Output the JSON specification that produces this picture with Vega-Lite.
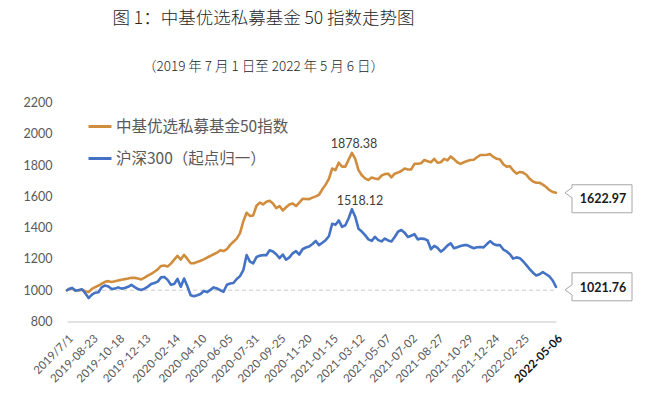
{
  "$schema": "https://vega.github.io/schema/vega-lite/v6.json",
  "width": 489,
  "height": 219,
  "autosize": {"type": "none"},
  "padding": {"left": 67, "top": 102.5, "right": 104, "bottom": 74.5},
  "background": "white",
  "title": {
    "text": "图 1：中基优选私募基金 50 指数走势图",
    "subtitle": "（2019 年 7 月 1 日至 2022 年 5 月 6 日）",
    "frame": "group",
    "anchor": "middle",
    "dx": -48,
    "font": "Noto Sans CJK SC",
    "subtitleFont": "Noto Sans CJK SC",
    "fontSize": 17.5,
    "subtitleFontSize": 13.5,
    "fontWeight": 300,
    "subtitleFontWeight": 300,
    "color": "#262626",
    "subtitleColor": "#262626",
    "offset": 23,
    "subtitlePadding": 33
  },
  "data": {"values": [
    {"date":"2019-07-01","P":1000,"H":1000},
    {"date":"2019-07-05","P":1008,"H":1008},
    {"date":"2019-07-12","P":1010,"H":1015},
    {"date":"2019-07-19","P":1000,"H":997},
    {"date":"2019-07-26","P":998,"H":1001},
    {"date":"2019-08-02","P":1003,"H":1006},
    {"date":"2019-08-09","P":994,"H":980},
    {"date":"2019-08-16","P":988,"H":950},
    {"date":"2019-08-23","P":1008,"H":972},
    {"date":"2019-08-30","P":1020,"H":984},
    {"date":"2019-09-06","P":1030,"H":987},
    {"date":"2019-09-13","P":1042,"H":1020},
    {"date":"2019-09-20","P":1054,"H":1030},
    {"date":"2019-09-27","P":1058,"H":1024},
    {"date":"2019-10-04","P":1053,"H":1008},
    {"date":"2019-10-11","P":1057,"H":1010},
    {"date":"2019-10-18","P":1062,"H":1018},
    {"date":"2019-10-25","P":1067,"H":1010},
    {"date":"2019-11-01","P":1071,"H":1014},
    {"date":"2019-11-08","P":1075,"H":1022},
    {"date":"2019-11-15","P":1080,"H":1034},
    {"date":"2019-11-22","P":1079,"H":1020},
    {"date":"2019-11-29","P":1075,"H":1007},
    {"date":"2019-12-06","P":1069,"H":1001},
    {"date":"2019-12-13","P":1080,"H":1010},
    {"date":"2019-12-20","P":1093,"H":1023},
    {"date":"2019-12-27","P":1104,"H":1040},
    {"date":"2020-01-03","P":1118,"H":1046},
    {"date":"2020-01-10","P":1133,"H":1055},
    {"date":"2020-01-17","P":1155,"H":1082},
    {"date":"2020-01-24","P":1158,"H":1085},
    {"date":"2020-01-31","P":1152,"H":1066},
    {"date":"2020-02-07","P":1170,"H":1035},
    {"date":"2020-02-14","P":1195,"H":1040},
    {"date":"2020-02-21","P":1220,"H":1072},
    {"date":"2020-02-28","P":1196,"H":1022},
    {"date":"2020-03-06","P":1226,"H":1075},
    {"date":"2020-03-13","P":1200,"H":1025},
    {"date":"2020-03-20","P":1172,"H":968},
    {"date":"2020-03-27","P":1172,"H":962},
    {"date":"2020-04-03","P":1181,"H":968},
    {"date":"2020-04-10","P":1188,"H":976},
    {"date":"2020-04-17","P":1197,"H":995},
    {"date":"2020-04-24","P":1209,"H":988},
    {"date":"2020-05-01","P":1219,"H":1002},
    {"date":"2020-05-08","P":1230,"H":1018},
    {"date":"2020-05-15","P":1240,"H":1011},
    {"date":"2020-05-22","P":1256,"H":1000},
    {"date":"2020-05-29","P":1250,"H":990},
    {"date":"2020-06-05","P":1262,"H":1035},
    {"date":"2020-06-12","P":1290,"H":1043},
    {"date":"2020-06-19","P":1310,"H":1046},
    {"date":"2020-06-26","P":1330,"H":1072},
    {"date":"2020-07-03","P":1365,"H":1090},
    {"date":"2020-07-10","P":1440,"H":1128},
    {"date":"2020-07-17","P":1495,"H":1225},
    {"date":"2020-07-24","P":1475,"H":1183},
    {"date":"2020-07-31","P":1478,"H":1172},
    {"date":"2020-08-07","P":1540,"H":1212},
    {"date":"2020-08-14","P":1560,"H":1221},
    {"date":"2020-08-21","P":1548,"H":1224},
    {"date":"2020-08-28","P":1565,"H":1224},
    {"date":"2020-09-04","P":1572,"H":1255},
    {"date":"2020-09-11","P":1555,"H":1248},
    {"date":"2020-09-18","P":1525,"H":1230},
    {"date":"2020-09-25","P":1538,"H":1205},
    {"date":"2020-10-02","P":1510,"H":1228},
    {"date":"2020-10-09","P":1530,"H":1195},
    {"date":"2020-10-16","P":1548,"H":1210},
    {"date":"2020-10-23","P":1555,"H":1236},
    {"date":"2020-10-30","P":1538,"H":1250},
    {"date":"2020-11-06","P":1560,"H":1228},
    {"date":"2020-11-13","P":1584,"H":1262},
    {"date":"2020-11-20","P":1583,"H":1273},
    {"date":"2020-11-27","P":1582,"H":1280},
    {"date":"2020-12-04","P":1592,"H":1296},
    {"date":"2020-12-11","P":1600,"H":1315},
    {"date":"2020-12-18","P":1610,"H":1288},
    {"date":"2020-12-25","P":1645,"H":1303},
    {"date":"2021-01-01","P":1675,"H":1320},
    {"date":"2021-01-08","P":1712,"H":1345},
    {"date":"2021-01-15","P":1778,"H":1425},
    {"date":"2021-01-22","P":1768,"H":1418},
    {"date":"2021-01-29","P":1815,"H":1446},
    {"date":"2021-02-05","P":1790,"H":1405},
    {"date":"2021-02-12","P":1790,"H":1415},
    {"date":"2021-02-19","P":1835,"H":1460},
    {"date":"2021-02-26","P":1878.38,"H":1518.12},
    {"date":"2021-03-05","P":1840,"H":1470},
    {"date":"2021-03-12","P":1768,"H":1393},
    {"date":"2021-03-19","P":1735,"H":1375},
    {"date":"2021-03-26","P":1715,"H":1352},
    {"date":"2021-04-02","P":1704,"H":1325},
    {"date":"2021-04-09","P":1720,"H":1315},
    {"date":"2021-04-16","P":1714,"H":1341},
    {"date":"2021-04-23","P":1710,"H":1320},
    {"date":"2021-04-30","P":1733,"H":1312},
    {"date":"2021-05-07","P":1742,"H":1330},
    {"date":"2021-05-14","P":1745,"H":1318},
    {"date":"2021-05-21","P":1722,"H":1312},
    {"date":"2021-05-28","P":1745,"H":1340},
    {"date":"2021-06-04","P":1752,"H":1374},
    {"date":"2021-06-11","P":1762,"H":1385},
    {"date":"2021-06-18","P":1778,"H":1368},
    {"date":"2021-06-25","P":1772,"H":1340},
    {"date":"2021-07-02","P":1772,"H":1348},
    {"date":"2021-07-09","P":1808,"H":1358},
    {"date":"2021-07-16","P":1808,"H":1325},
    {"date":"2021-07-23","P":1812,"H":1330},
    {"date":"2021-07-30","P":1832,"H":1328},
    {"date":"2021-08-06","P":1825,"H":1318},
    {"date":"2021-08-13","P":1818,"H":1262},
    {"date":"2021-08-20","P":1840,"H":1283},
    {"date":"2021-08-27","P":1815,"H":1270},
    {"date":"2021-09-03","P":1818,"H":1247},
    {"date":"2021-09-10","P":1840,"H":1262},
    {"date":"2021-09-17","P":1830,"H":1285},
    {"date":"2021-09-24","P":1855,"H":1300},
    {"date":"2021-10-01","P":1838,"H":1268},
    {"date":"2021-10-08","P":1818,"H":1275},
    {"date":"2021-10-15","P":1808,"H":1282},
    {"date":"2021-10-22","P":1818,"H":1288},
    {"date":"2021-10-29","P":1826,"H":1288},
    {"date":"2021-11-05","P":1832,"H":1278},
    {"date":"2021-11-12","P":1834,"H":1268},
    {"date":"2021-11-19","P":1850,"H":1275},
    {"date":"2021-11-26","P":1864,"H":1276},
    {"date":"2021-12-03","P":1864,"H":1274},
    {"date":"2021-12-10","P":1866,"H":1295},
    {"date":"2021-12-17","P":1870,"H":1314},
    {"date":"2021-12-24","P":1852,"H":1295},
    {"date":"2021-12-31","P":1840,"H":1288},
    {"date":"2022-01-07","P":1836,"H":1288},
    {"date":"2022-01-14","P":1805,"H":1260},
    {"date":"2022-01-21","P":1790,"H":1248},
    {"date":"2022-01-28","P":1793,"H":1230},
    {"date":"2022-02-04","P":1765,"H":1202},
    {"date":"2022-02-11","P":1745,"H":1210},
    {"date":"2022-02-18","P":1756,"H":1205},
    {"date":"2022-02-25","P":1752,"H":1185},
    {"date":"2022-03-04","P":1738,"H":1160},
    {"date":"2022-03-11","P":1712,"H":1135},
    {"date":"2022-03-18","P":1695,"H":1112},
    {"date":"2022-03-25","P":1687,"H":1094},
    {"date":"2022-04-01","P":1687,"H":1102},
    {"date":"2022-04-08","P":1675,"H":1115},
    {"date":"2022-04-15","P":1660,"H":1102},
    {"date":"2022-04-22","P":1640,"H":1088},
    {"date":"2022-04-29","P":1628,"H":1062},
    {"date":"2022-05-06","P":1622.97,"H":1021.76}
  ]},
  "transform": [
    {"fold": ["P", "H"], "as": ["code", "value"]},
    {"calculate": "datum.code == 'P' ? '中基优选私募基金50指数' : '沪深300（起点归一）'", "as": "series"}
  ],
  "encoding": {
    "x": {
      "field": "date", "type": "temporal",
      "scale": {"type": "utc", "nice": false, "domain": [{"year": 2019, "month": 7, "date": 1, "utc": true}, {"year": 2022, "month": 5, "date": 6, "utc": true}]},
      "axis": {
        "title": null,
        "values": [
          {"year": 2019, "month": 7, "date": 1, "utc": true},
          {"year": 2019, "month": 8, "date": 23, "utc": true},
          {"year": 2019, "month": 10, "date": 18, "utc": true},
          {"year": 2019, "month": 12, "date": 13, "utc": true},
          {"year": 2020, "month": 2, "date": 14, "utc": true},
          {"year": 2020, "month": 4, "date": 10, "utc": true},
          {"year": 2020, "month": 6, "date": 5, "utc": true},
          {"year": 2020, "month": 7, "date": 31, "utc": true},
          {"year": 2020, "month": 9, "date": 25, "utc": true},
          {"year": 2020, "month": 11, "date": 20, "utc": true},
          {"year": 2021, "month": 1, "date": 15, "utc": true},
          {"year": 2021, "month": 3, "date": 12, "utc": true},
          {"year": 2021, "month": 5, "date": 7, "utc": true},
          {"year": 2021, "month": 7, "date": 2, "utc": true},
          {"year": 2021, "month": 8, "date": 27, "utc": true},
          {"year": 2021, "month": 10, "date": 29, "utc": true},
          {"year": 2021, "month": 12, "date": 24, "utc": true},
          {"year": 2022, "month": 2, "date": 25, "utc": true},
          {"year": 2022, "month": 5, "date": 6, "utc": true}
        ],
        "labelExpr": "utcFormat(datum.value, '%Y-%m-%d') == '2019-07-01' ? '2019/7/1' : utcFormat(datum.value, '%Y-%m-%d')",
        "labelColor": {"condition": {"test": "utcFormat(datum.value, '%Y-%m-%d') == '2022-05-06'", "value": "#111111"}, "value": "#595959"},
        "labelFontWeight": {"condition": {"test": "utcFormat(datum.value, '%Y-%m-%d') == '2022-05-06'", "value": "bold"}, "value": "normal"},
        "labelOverlap": false,
        "labelFlush": false,
        "labelBound": false,
        "ticks": false,
        "grid": false,
        "labelAngle": -45,
        "labelAlign": "right",
        "labelBaseline": "top",
        "labelPadding": 11,
        "labelOffset": 0,
        "labelFont": "Lato",
        "labelFontSize": 11.5,
        "domainColor": "#d9d9d9",
        "domainWidth": 1.5
      }
    },
    "y": {
      "field": "value", "type": "quantitative",
      "scale": {"domain": [800, 2200], "nice": false, "zero": false},
      "axis": {
        "title": null,
        "values": [800, 1000, 1200, 1400, 1600, 1800, 2000, 2200],
        "format": "d",
        "labelOverlap": false,
        "labelFlush": false,
        "labelBound": false,
        "ticks": false,
        "grid": false,
        "domain": false,
        "labelFont": "Lato",
        "labelFontSize": 12.5,
        "labelColor": "#595959",
        "labelPadding": 15
      }
    }
  },
  "layer": [
    {
      "transform": [{"filter": {"field": "code", "equal": "P"}}],
      "mark": {"type": "line", "color": "#c8c8c8", "strokeDash": [4, 3], "strokeWidth": 1},
      "encoding": {"y": {"datum": 1000, "type": "quantitative"}}
    },
    {
      "mark": {"type": "line", "strokeWidth": 2.6, "strokeJoin": "round", "strokeCap": "round"},
      "encoding": {
        "color": {
          "field": "series", "type": "nominal",
          "scale": {"domain": ["中基优选私募基金50指数", "沪深300（起点归一）"], "range": ["#D18D3E", "#4472C4"]},
          "legend": {
            "title": null, "orient": "none", "legendX": 20, "legendY": 11,
            "symbolType": "stroke", "symbolSize": 529, "symbolStrokeWidth": 3,
            "labelFont": "Noto Sans CJK SC", "labelFontSize": 15.5, "labelColor": "#595959",
            "labelOffset": 3, "rowPadding": 10, "padding": 0, "labelLimit": 400
          }
        }
      }
    },
    {
      "transform": [{"filter": {"and": [{"field": "date", "equal": {"year": 2021, "month": 2, "date": 26, "utc": true}}, {"field": "code", "equal": "P"}]}}],
      "mark": {"type": "text", "font": "Lato", "fontSize": 12.5, "color": "#404040", "baseline": "middle", "align": "center", "dx": 2, "dy": -9},
      "encoding": {"text": {"field": "value", "type": "quantitative", "format": ".2f"}}
    },
    {
      "transform": [{"filter": {"and": [{"field": "date", "equal": {"year": 2021, "month": 2, "date": 26, "utc": true}}, {"field": "code", "equal": "H"}]}}],
      "mark": {"type": "text", "font": "Lato", "fontSize": 12.5, "color": "#404040", "baseline": "middle", "align": "center", "dx": 8, "dy": -8},
      "encoding": {"text": {"field": "value", "type": "quantitative", "format": ".2f"}}
    },
    {
      "transform": [{"filter": {"and": [{"field": "date", "equal": {"year": 2022, "month": 5, "date": 6, "utc": true}}, {"field": "code", "equal": "P"}]}}],
      "mark": {"type": "point", "shape": "M16,-8L76,-8L76,20L16,20L16,5L9,0L16,-5Z", "size": 4, "filled": true, "fill": "white", "stroke": "#a6a6a6", "strokeWidth": 1, "opacity": 1},
      "encoding": {}
    },
    {
      "transform": [{"filter": {"and": [{"field": "date", "equal": {"year": 2022, "month": 5, "date": 6, "utc": true}}, {"field": "code", "equal": "H"}]}}],
      "mark": {"type": "point", "shape": "M16,-14L76,-14L76,14L16,14L16,8L9,3L16,-2Z", "size": 4, "filled": true, "fill": "white", "stroke": "#a6a6a6", "strokeWidth": 1, "opacity": 1},
      "encoding": {}
    },
    {
      "transform": [{"filter": {"and": [{"field": "date", "equal": {"year": 2022, "month": 5, "date": 6, "utc": true}}, {"field": "code", "equal": "P"}]}}],
      "mark": {"type": "text", "font": "Lato", "fontSize": 12.5, "fontWeight": "bold", "color": "#1a1a1a", "baseline": "middle", "align": "center", "dx": 47, "dy": 6},
      "encoding": {"text": {"field": "value", "type": "quantitative", "format": ".2f"}}
    },
    {
      "transform": [{"filter": {"and": [{"field": "date", "equal": {"year": 2022, "month": 5, "date": 6, "utc": true}}, {"field": "code", "equal": "H"}]}}],
      "mark": {"type": "text", "font": "Lato", "fontSize": 12.5, "fontWeight": "bold", "color": "#1a1a1a", "baseline": "middle", "align": "center", "dx": 47, "dy": 1},
      "encoding": {"text": {"field": "value", "type": "quantitative", "format": ".2f"}}
    }
  ],
  "config": {
    "view": {"stroke": null},
    "font": "Lato"
  }
}
